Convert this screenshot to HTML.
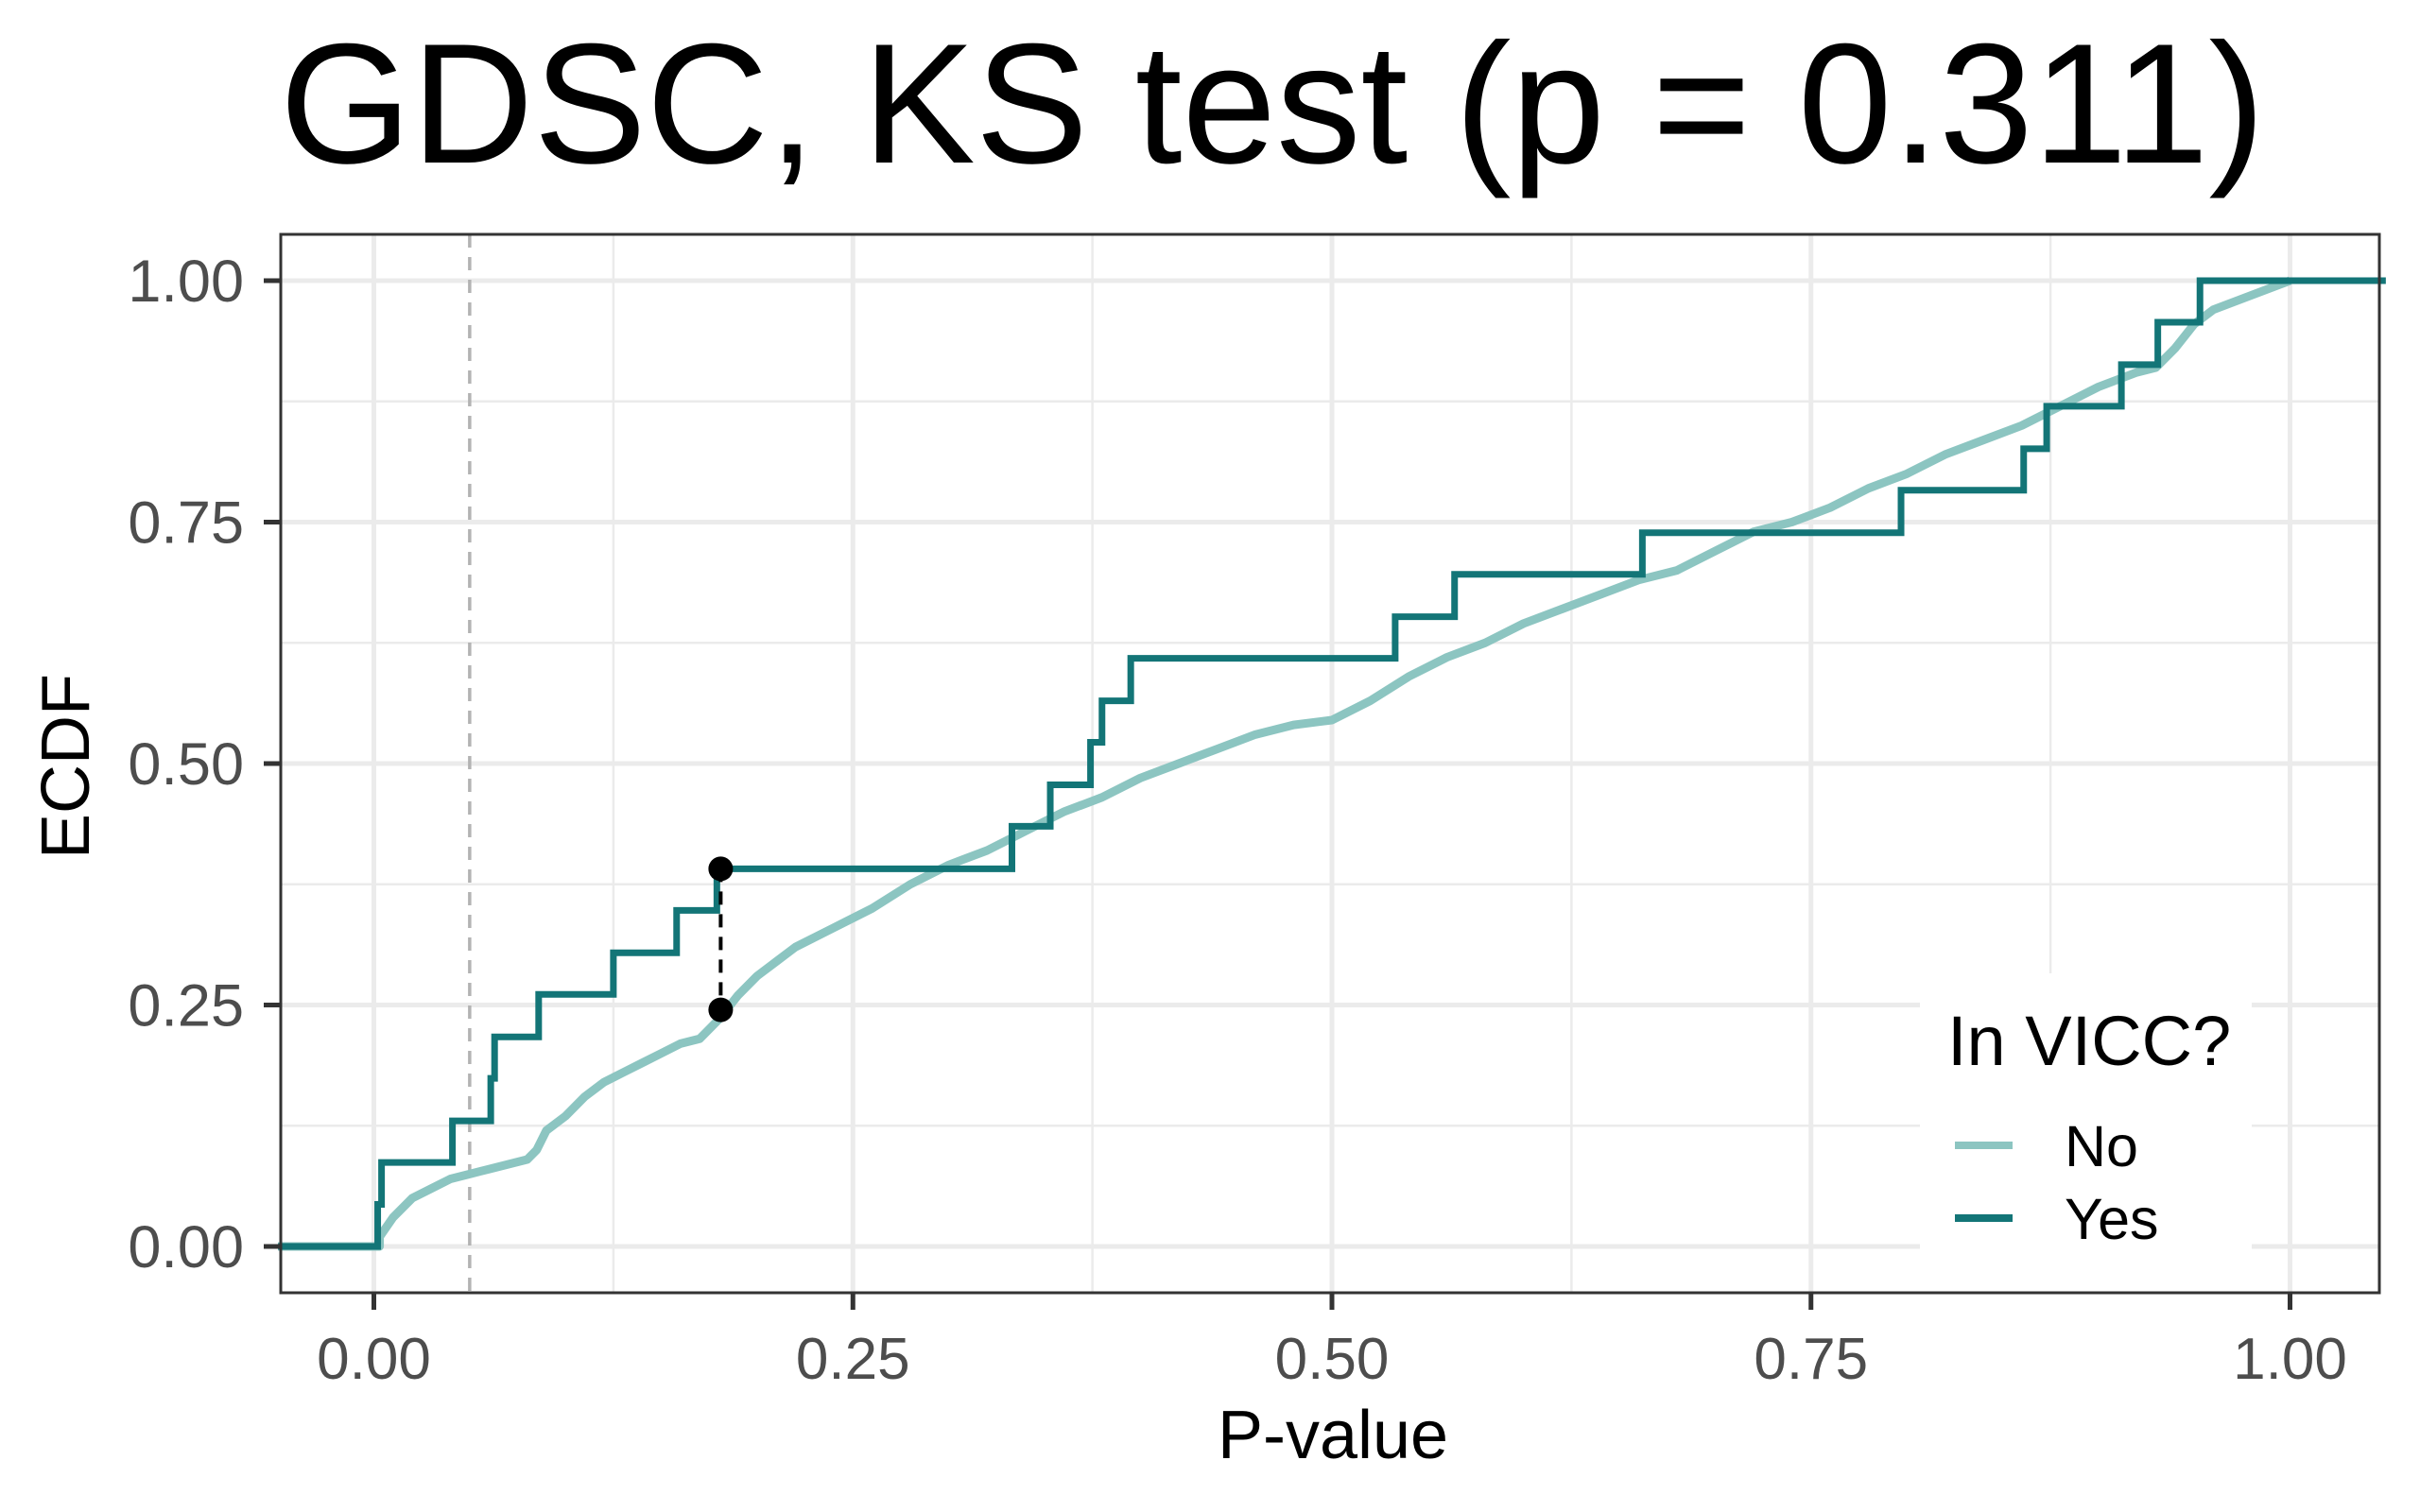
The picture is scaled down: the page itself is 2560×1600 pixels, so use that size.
<!DOCTYPE html>
<html><head><meta charset="utf-8"><style>
html,body{margin:0;padding:0;background:#fff;}
svg{display:block;font-family:"Liberation Sans",Arial,sans-serif;}
</style></head><body>
<svg id="chart" width="2560" height="1600" viewBox="0 0 2560 1600">
<rect width="2560" height="1600" fill="#fff"/>
<text x="1346" y="172" font-size="181" text-anchor="middle" textLength="2100" lengthAdjust="spacingAndGlyphs" fill="#000">GDSC, KS test (p = 0.311)</text>
<g id="grid"></g>
<g id="legendbg"><rect x="2031" y="1030" width="351" height="337" fill="#fff"/></g>
<g id="marks"></g>
<rect x="297" y="248" width="2220" height="1120" fill="none" stroke="#333" stroke-width="3"/>
<g id="axes"></g>
<text x="1410" y="1543" font-size="72" text-anchor="middle" fill="#000">P-value</text>
<text transform="translate(94,811) rotate(-90)" font-size="72" text-anchor="middle" fill="#000">ECDF</text>
<g>
<text x="2060" y="1127" font-size="74" fill="#000">In VICC?</text>
<line x1="2068" y1="1212" x2="2129" y2="1212" stroke="#8cc5c1" stroke-width="8"/>
<text x="2184" y="1234" font-size="61" fill="#000">No</text>
<line x1="2068" y1="1289" x2="2129" y2="1289" stroke="#137577" stroke-width="8"/>
<text x="2184" y="1311" font-size="61" fill="#000">Yes</text>
</g>
</svg>
<script>
const xTicks=[0,0.25,0.5,0.75,1];
const xTickLabels=["0.00","0.25","0.50","0.75","1.00"];
const yTicks=[0,0.25,0.5,0.75,1];
const yTickLabels=["0.00","0.25","0.50","0.75","1.00"];
const yesP=[0.002,0.004,0.041,0.061,0.063,0.086,0.125,0.158,0.179,0.333,0.353,0.374,0.380,0.395,0.533,0.564,0.662,0.797,0.861,0.873,0.912,0.931,0.953];
const yesF=[0.0435,0.087,0.130,0.174,0.217,0.261,0.304,0.348,0.391,0.435,0.478,0.522,0.565,0.609,0.652,0.696,0.739,0.783,0.826,0.870,0.913,0.957,1.0];
const noP=[0.003,0.01,0.02,0.03,0.04,0.05,0.06,0.07,0.08,0.085,0.09,0.1,0.11,0.12,0.13,0.14,0.15,0.16,0.17,0.18,0.19,0.2,0.21,0.22,0.24,0.26,0.28,0.3,0.32,0.34,0.36,0.38,0.4,0.42,0.44,0.46,0.48,0.5,0.52,0.54,0.56,0.58,0.6,0.62,0.64,0.66,0.68,0.7,0.72,0.74,0.76,0.78,0.8,0.82,0.84,0.86,0.88,0.9,0.92,0.93,0.94,0.95,0.96,0.98,1.0];
const noF=[0.01,0.03,0.05,0.06,0.07,0.075,0.08,0.085,0.09,0.1,0.12,0.135,0.155,0.17,0.18,0.19,0.2,0.21,0.215,0.235,0.26,0.28,0.295,0.31,0.33,0.35,0.375,0.395,0.41,0.43,0.45,0.465,0.485,0.5,0.515,0.53,0.54,0.545,0.565,0.59,0.61,0.625,0.645,0.66,0.675,0.69,0.7,0.72,0.74,0.75,0.765,0.785,0.8,0.82,0.835,0.85,0.87,0.89,0.905,0.91,0.93,0.955,0.97,0.985,1.0];
const ksX=[0.181];
const ksLow=[0.245];
const ksHigh=[0.391];
const cutoff=[0.05];
const xMin=-0.05,xMax=1.05;

const NS="http://www.w3.org/2000/svg";
const PL=297,PR=2517,PT=248,PB=1368;
const sx=v=>395.5+v*2027;
const sy=v=>1319-v*1022;
function mk(tag,attrs,parent){const e=document.createElementNS(NS,tag);for(const k in attrs)e.setAttribute(k,attrs[k]);parent.appendChild(e);return e;}
const grid=document.getElementById('grid'),marks=document.getElementById('marks'),axes=document.getElementById('axes');
for(let i=0;i<xTicks.length-1;i++){const v=(xTicks[i]+xTicks[i+1])/2;
 const l=mk('line',{x1:sx(v),x2:sx(v),y1:PT,y2:PB,stroke:'#ebebeb','stroke-width':2.5},grid);
 }
for(let i=0;i<yTicks.length-1;i++){const v=(yTicks[i]+yTicks[i+1])/2;
 const l=mk('line',{x1:PL,x2:PR,y1:sy(v),y2:sy(v),stroke:'#ebebeb','stroke-width':2.5},grid);
 }
xTicks.forEach((v,i)=>{
 const l=mk('line',{x1:sx(v),x2:sx(v),y1:PT,y2:PB,stroke:'#ebebeb','stroke-width':5},grid);
 
 const t=mk('line',{x1:sx(v),x2:sx(v),y1:PB,y2:PB+18,stroke:'#333','stroke-width':5},axes);
 
 const tx=mk('text',{x:sx(v),y:1459,'font-size':62,'text-anchor':'middle',fill:'#4d4d4d'},axes);tx.textContent=xTickLabels[i];
 
});
yTicks.forEach((v,i)=>{
 const l=mk('line',{x1:PL,x2:PR,y1:sy(v),y2:sy(v),stroke:'#ebebeb','stroke-width':5},grid);
 
 const t=mk('line',{x1:PL-18,x2:PL,y1:sy(v),y2:sy(v),stroke:'#333','stroke-width':5},axes);
 
 const tx=mk('text',{x:258,y:sy(v)+22,'font-size':63,'text-anchor':'end',fill:'#4d4d4d'},axes);tx.textContent=yTickLabels[i];
 
});
const cl=mk('line',{x1:sx(cutoff[0]),x2:sx(cutoff[0]),y1:PT,y2:PB,stroke:'#b3b3b3','stroke-width':3.5,'stroke-dasharray':'14 10'},marks);

function stepPath(P,F){let d=`M${sx(xMin)},${sy(0)}`;
 for(let i=0;i<P.length;i++){d+=`H${sx(P[i])}V${sy(F[i])}`;}
 d+=`H${sx(xMax)}`;return d;}
function finePath(P,F){let d=`M${sx(xMin)},${sy(0)}H${sx(P[0])}`;
 for(let i=0;i<P.length;i++){d+=`L${sx(P[i])},${sy(F[i])}`;}
 return d;}
const pn=mk('path',{d:finePath(noP,noF),fill:'none',stroke:'#8cc5c1','stroke-width':9,'stroke-linejoin':'round'},marks);

const py=mk('path',{d:stepPath(yesP,yesF),fill:'none',stroke:'#137577','stroke-width':7},marks);

const ks=mk('line',{x1:sx(ksX[0]),x2:sx(ksX[0]),y1:sy(ksHigh[0]),y2:sy(ksLow[0]),stroke:'#000','stroke-width':4,'stroke-dasharray':'14 10'},marks);

const d1=mk('circle',{cx:sx(ksX[0]),cy:sy(ksHigh[0]),r:13,fill:'#000'},marks);

const d2=mk('circle',{cx:sx(ksX[0]),cy:sy(ksLow[0]),r:13,fill:'#000'},marks);

</script>
</body></html>
